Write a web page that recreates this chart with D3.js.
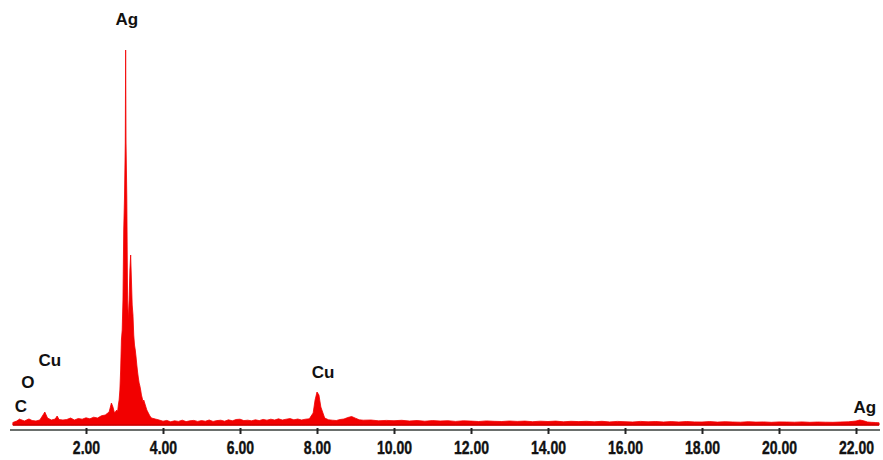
<!DOCTYPE html>
<html>
<head>
<meta charset="utf-8">
<script src="https://cdn.jsdelivr.net/npm/d3@7"></script>
<style>
  body { margin: 0; background: #fff; }
  #canvas { width: 883px; height: 460px; }
</style>
</head>
<body>
<div id="canvas"></div>
<script>
// EDS spectrum: energy (keV) and counts
var energy = [0.1, 0.2, 0.28, 0.3, 0.4, 0.5, 0.52, 0.6, 0.7, 0.8, 0.9, 0.93, 1.0, 1.1, 1.2, 1.25, 1.3, 1.4, 1.5, 1.6, 1.7, 1.8, 1.9,
  2.0, 2.1, 2.2, 2.3, 2.4, 2.5, 2.6, 2.66, 2.7, 2.74, 2.78,
  2.80, 2.82, 2.84, 2.86, 2.88, 2.90, 2.92, 2.94, 2.96, 2.98, 3.00, 3.02, 3.03, 3.04, 3.06, 3.08, 3.10, 3.12, 3.14, 3.16, 3.18,
  3.20, 3.22, 3.24, 3.26, 3.28, 3.30, 3.32, 3.34, 3.36, 3.38, 3.40, 3.42, 3.44, 3.46, 3.48, 3.50, 3.54, 3.58, 3.62, 3.66, 3.70,
  3.8, 3.9, 4.0, 4.1, 4.2, 4.3, 4.4, 4.5, 4.6, 4.7, 4.8, 4.9, 5.0, 5.1, 5.2, 5.3, 5.4, 5.5, 5.6, 5.7, 5.8, 5.9, 6.0,
  6.1, 6.2, 6.3, 6.4, 6.5, 6.6, 6.7, 6.8, 6.9, 7.0, 7.1, 7.2, 7.3, 7.4, 7.5, 7.6, 7.7, 7.8, 7.9, 7.95, 8.0, 8.05, 8.1,
  8.2, 8.3, 8.4, 8.5, 8.6, 8.7, 8.8, 8.9, 9.0, 9.1, 9.2, 9.4, 9.6, 9.8, 10.0, 10.2, 10.4, 10.6, 10.8, 11.0,
  11.2, 11.4, 11.6, 11.8, 12.0, 12.2, 12.4, 12.6, 12.8, 13.0, 13.2, 13.4, 13.6, 13.8, 14.0, 14.2, 14.4, 14.6, 14.8, 15.0,
  15.2, 15.4, 15.6, 15.8, 16.0, 16.2, 16.4, 16.6, 16.8, 17.0, 17.2, 17.4, 17.6, 17.8, 18.0, 18.2, 18.4, 18.6, 18.8, 19.0,
  19.2, 19.4, 19.6, 19.8, 20.0, 20.2, 20.4, 20.6, 20.8, 21.0, 21.2, 21.4, 21.6, 21.8, 22.0, 22.1, 22.2, 22.3, 22.4, 22.5, 22.6];
var counts = [25, 40, 60, 55, 40, 58, 60, 45, 40, 50, 110, 130, 70, 50, 60, 90, 55, 50, 55, 70, 50, 65, 58,
  72, 62, 78, 70, 92, 100, 130, 220, 180, 120, 140,
  150, 130, 200, 250, 350, 550, 850, 950, 1250, 1950, 2280, 2820, 3750, 2820, 2280, 1250, 1050, 1250, 1550, 1700, 1450,
  1200, 1100, 900, 800, 750, 680, 600, 530, 470, 420, 390, 350, 300, 270, 230, 250, 200, 150, 120, 90, 70,
  60, 50, 38, 46, 32, 42, 36, 48, 34, 42, 46, 36, 44, 38, 50, 36, 44, 48, 38, 52, 42, 55, 58,
  44, 48, 42, 52, 44, 56, 48, 58, 50, 62, 50, 58, 64, 52, 60, 50, 58, 62, 120, 250, 330, 300, 180,
  70, 52, 48, 45, 55, 60, 75, 85, 68, 52, 48, 50, 42, 46, 43, 47, 40, 45, 38, 44,
  40, 43, 36, 42, 39, 35, 41, 37, 35, 40, 36, 39, 33, 38, 35, 39, 32, 37, 34, 37,
  32, 37, 31, 36, 33, 30, 36, 32, 35, 30, 34, 30, 35, 31, 30, 34, 29, 33, 30, 28,
  33, 29, 31, 27, 31, 30, 28, 31, 27, 30, 28, 27, 30, 32, 40, 50, 42, 30, 27, 25, 22];

// peak labels
var peakNames = ["C", "O", "Cu", "Ag", "Cu", "Ag"];
var peakEnergy = [0.31, 0.49, 1.06, 3.06, 8.16, 22.23];
var peakLevel = [130, 370, 590, 4000, 470, 120];

var xTicks = [2, 4, 6, 8, 10, 12, 14, 16, 18, 20, 22];

var width = 883, height = 460;

var svg = d3.select("#canvas")
  .append("svg")
  .attr("width", width)
  .attr("height", height);

var x = d3.scaleLinear()
  .domain([0, 22.6])
  .range([9, 879.1]);

var y = d3.scaleLinear()
  .domain([0, 3800])
  .range([425, 45]);

var data = energy.map(function (e, i) { return {e: e, c: counts[i]}; });

// spectrum fill
var area = d3.area()
  .x(function (d) { return x(d.e); })
  .y0(y(0))
  .y1(function (d) { return y(d.c); });

svg.append("path")
  .datum(data)
  .attr("d", area)
  .style("fill", "#f20000")
  .style("stroke", "#f20000")
  .style("stroke-width", 0.8)
  .style("stroke-linejoin", "round");

// darker baseline under the fill
svg.append("line")
  .attr("x1", x(0.1)).attr("x2", x(22.6))
  .attr("y1", y(0)).attr("y2", y(0))
  .style("stroke", "#c80000")
  .style("stroke-width", 1.5);

// axis line
svg.append("line")
  .attr("x1", 10).attr("x2", 880)
  .attr("y1", 430).attr("y2", 430)
  .style("stroke", "#6a6f6c")
  .style("stroke-width", 2);

var axis = svg.append("g")
  .attr("transform", "translate(0,428)")
  .call(d3.axisBottom(x).tickValues(xTicks).tickSize(6).tickPadding(7).tickFormat(d3.format(".2f")));

axis.select(".domain").remove();
axis.selectAll(".tick line")
  .style("stroke", "#222")
  .style("stroke-width", 2);
axis.selectAll(".tick text")
  .attr("transform", "scale(0.74,1)")
  .style("font-family", "'Liberation Sans', Arial, sans-serif")
  .style("font-weight", "bold")
  .style("font-size", "19px")
  .style("stroke", "#111")
  .style("stroke-width", 0.4)
  .style("fill", "#111");

// element labels
svg.append("g")
  .selectAll("text")
  .data(peakNames)
  .enter()
  .append("text")
  .attr("x", function (d, i) { return x(peakEnergy[i]); })
  .attr("y", function (d, i) { return y(peakLevel[i]); })
  .attr("text-anchor", "middle")
  .style("font-family", "'Liberation Sans', Arial, sans-serif")
  .style("font-weight", "bold")
  .style("font-size", "17px")
  .style("fill", "#111")
  .text(function (d) { return d; });
</script>
</body>
</html>
